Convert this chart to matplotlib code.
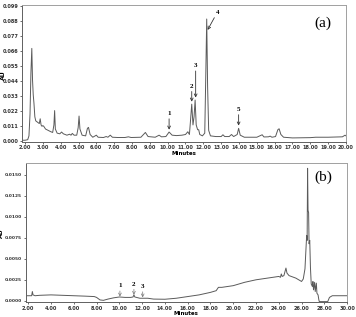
import numpy as np
import matplotlib.pyplot as plt

# --- trace (a): retention time (min) vs absorbance (AU)
ta = [1.83, 2.0, 2.15, 2.22, 2.28, 2.33, 2.38, 2.42, 2.46, 2.5, 2.55, 2.6, 2.7, 2.8, 2.85, 2.9,
      2.95, 3.0, 3.05, 3.15, 3.3, 3.45, 3.55, 3.62, 3.66, 3.7, 3.8, 3.95, 4.05, 4.15, 4.35, 4.5,
      4.58, 4.65, 4.75, 4.9, 4.98, 5.03, 5.08, 5.2, 5.4, 5.5, 5.56, 5.65, 5.8, 6.0, 6.1, 6.4,
      6.55, 6.65, 6.78, 6.9, 7.2, 7.6, 7.8, 7.95, 8.5, 8.75, 8.9, 9.3, 9.52, 9.65, 9.9, 10.08,
      10.25, 10.5, 10.8, 11.0, 11.13, 11.22, 11.28, 11.35, 11.42, 11.48, 11.54, 11.6, 11.68,
      11.74, 11.8, 11.95, 12.08, 12.14, 12.19, 12.24, 12.3, 12.4, 12.7, 13.0, 13.1, 13.2, 13.45,
      13.58, 13.7, 13.9, 13.98, 14.07, 14.3, 15.0, 15.3, 15.4, 15.65, 15.75, 15.85, 16.05,
      16.18, 16.25, 16.35, 16.5, 17.0, 18.0, 18.3, 19.0, 19.8, 19.95, 20.0]
ya = [0.0008, 0.0008, 0.0012, 0.004, 0.02, 0.05, 0.068, 0.045, 0.034, 0.028, 0.018, 0.015,
      0.014, 0.013, 0.0165, 0.012, 0.011, 0.0115, 0.011, 0.009, 0.008, 0.007, 0.0065, 0.012,
      0.0225, 0.009, 0.006, 0.0055, 0.0068, 0.0055, 0.0045, 0.0052, 0.0045, 0.0058, 0.0045,
      0.0045, 0.01, 0.0185, 0.009, 0.0045, 0.004, 0.0095, 0.0102, 0.005, 0.003, 0.0045, 0.003,
      0.0028, 0.0035, 0.003, 0.0045, 0.003, 0.0028, 0.0028, 0.0033, 0.0028, 0.003, 0.0065,
      0.0035, 0.003, 0.0045, 0.0033, 0.0035, 0.0068, 0.0045, 0.0042, 0.0045, 0.005, 0.007,
      0.005, 0.015, 0.0272, 0.012, 0.018, 0.0302, 0.012, 0.0085, 0.0085, 0.005, 0.004, 0.006,
      0.05, 0.0895, 0.04, 0.008, 0.004, 0.0035, 0.0035, 0.0048, 0.0035, 0.0035, 0.005, 0.0035,
      0.005, 0.0095, 0.0045, 0.003, 0.003, 0.0048, 0.0032, 0.0033, 0.0038, 0.003, 0.0035,
      0.0085, 0.0092, 0.005, 0.003, 0.0025, 0.0027, 0.003, 0.003, 0.0033, 0.0045, 0.004]

# --- trace (b)
tb = [1.77, 2.0, 2.3, 2.36, 2.42, 2.6, 3.0, 4.0, 5.0, 6.0, 7.0, 7.8, 8.0, 8.3, 8.6, 9.0, 9.5,
      10.0, 10.5, 11.0, 11.2, 11.28, 11.36, 11.8, 12.5, 13.0, 14.0, 15.0, 16.0, 17.0, 18.0,
      18.5, 18.7, 19.0, 20.0, 21.0, 22.0, 23.0, 24.0, 24.15, 24.22, 24.3, 24.45, 24.63, 24.72,
      24.9, 25.5, 26.0, 26.15, 26.3, 26.4, 26.45, 26.49, 26.53, 26.57, 26.62, 26.66, 26.72,
      26.78, 26.85, 26.95, 27.0, 27.05, 27.15, 27.2, 27.3, 27.35, 27.45, 27.52, 27.56, 28.3,
      28.45, 28.7, 30.0]
yb = [0.0006, 0.0006, 0.0006, 0.0011, 0.0007, 0.0006, 0.00065, 0.0007, 0.00065, 0.0006,
      0.00055, 0.0005, 0.0004, 0.0001, 0.00005, 0.0002, 0.00035, 0.00045, 0.0004, 0.0004,
      0.00045, 0.0007, 0.00045, 0.0003, 0.0003, 0.0002, 0.00018, 0.0003, 0.0005, 0.0007,
      0.001, 0.0012, 0.0016, 0.0016, 0.0018, 0.0022, 0.0025, 0.0027, 0.0029, 0.0028, 0.0032,
      0.0029, 0.003, 0.0039, 0.0033, 0.003, 0.0027, 0.0023, 0.0026, 0.0038, 0.0065, 0.0078,
      0.0072, 0.0158, 0.0108, 0.0105, 0.0068, 0.0072, 0.004, 0.002, 0.0017, 0.0023, 0.0013,
      0.0022, 0.0011, 0.0021, 0.0009, 0.0007, 0.0001, -0.0001, -0.0001, 0.0004, 0.0006, 0.0006]

xticks_a = np.arange(2, 21, 1)
yticks_a = [0.000, 0.011, 0.022, 0.033, 0.044, 0.055, 0.066, 0.077, 0.088, 0.099]
xticks_b = np.arange(2, 31, 2)
yticks_b = [0.0, 0.0025, 0.005, 0.0075, 0.01, 0.0125, 0.015]

# peak labels: (label, peak time, text y, arrow tip y)
peaks_a = [("1", 10.08, 0.0185, 0.0085), ("2", 11.35, 0.0385, 0.029),
           ("3", 11.57, 0.0535, 0.032)]
peaks_a5 = ("5", 13.98, 0.0215, 0.0115)
peaks_b = [("1", 10.05, 0.0015, 0.0005), ("2", 11.28, 0.0017, 0.0007),
           ("3", 12.05, 0.0014, 0.0004)]

line_c = '#5a5a5a'
fig = plt.figure(figsize=(3.56, 3.17), dpi=100)

def style(ax, ysize=3.6):
    for s in ['top', 'right']:
        ax.spines[s].set_color('#a0a0a0')
    for s in ['left', 'bottom']:
        ax.spines[s].set_color('#606060')
    for s in ax.spines.values():
        s.set_linewidth(0.7)
    ax.tick_params(length=1.5, width=0.5, pad=1, labelsize=3.6, colors='#333333')
    ax.tick_params(axis='y', labelsize=ysize)
    for lab in ax.get_xticklabels() + ax.get_yticklabels():
        lab.set_fontweight('bold')

ax1 = fig.add_axes([0.0618, 0.552, 0.910, 0.432])
ax1.plot(ta, ya, color=line_c, lw=0.7)
ax1.set_xlim(1.83, 20.0)
ax1.set_ylim(-0.0005, 0.0997)
ax1.set_xticks(xticks_a)
ax1.set_xticklabels(['%.2f' % v for v in xticks_a])
ax1.set_yticks(yticks_a)
ax1.set_yticklabels(['%.3f' % v for v in yticks_a])
style(ax1)
ax1.set_xlabel('Minutes', fontsize=4, fontweight='bold', labelpad=0.5)
ax1.set_ylabel('AU', fontsize=4.5, fontweight='bold')
ax1.yaxis.set_label_coords(-0.05, 0.49)
ax1.text(0.955, 0.87, '(a)', transform=ax1.transAxes, ha='right', va='center',
         fontsize=11, family='Liberation Serif')
for lab, t, ty, tip in peaks_a + [peaks_a5]:
    ax1.annotate(lab, xy=(t, tip), xytext=(t, ty), ha='center', va='bottom',
                 fontsize=5, fontweight='bold', family='Liberation Serif',
                 arrowprops=dict(arrowstyle='->', lw=0.6, color='#333333',
                                 shrinkA=0, shrinkB=0))
ax1.annotate('4', xy=(12.24, 0.0815), xytext=(12.78, 0.0925), ha='center', va='bottom',
             fontsize=5, fontweight='bold', family='Liberation Serif',
             arrowprops=dict(arrowstyle='->', lw=0.6, color='#333333',
                             shrinkA=0, shrinkB=0))

ax2 = fig.add_axes([0.072, 0.047, 0.903, 0.438])
ax2.plot(tb, yb, color=line_c, lw=0.7)
ax2.set_xlim(1.77, 30.0)
ax2.set_ylim(-0.00016, 0.0164)
ax2.set_xticks(xticks_b)
ax2.set_xticklabels(['%.2f' % v for v in xticks_b])
ax2.set_yticks(yticks_b)
ax2.set_yticklabels(['%.4f' % v for v in yticks_b])
style(ax2, ysize=3.2)
ax2.set_xlabel('Minutes', fontsize=4, fontweight='bold', labelpad=0.5)
ax2.set_ylabel('AU', fontsize=4.5, fontweight='bold')
ax2.yaxis.set_label_coords(-0.066, 0.5)
ax2.text(0.955, 0.9, '(b)', transform=ax2.transAxes, ha='right', va='center',
         fontsize=11, family='Liberation Serif')
for lab, t, ty, tip in peaks_b:
    ax2.annotate(lab, xy=(t, tip), xytext=(t, ty), ha='center', va='bottom',
                 fontsize=5, fontweight='bold', family='Liberation Serif',
                 arrowprops=dict(arrowstyle='->', lw=0.5, color='#777777',
                                 shrinkA=0, shrinkB=0))

fig.savefig('out.png', dpi=100)
